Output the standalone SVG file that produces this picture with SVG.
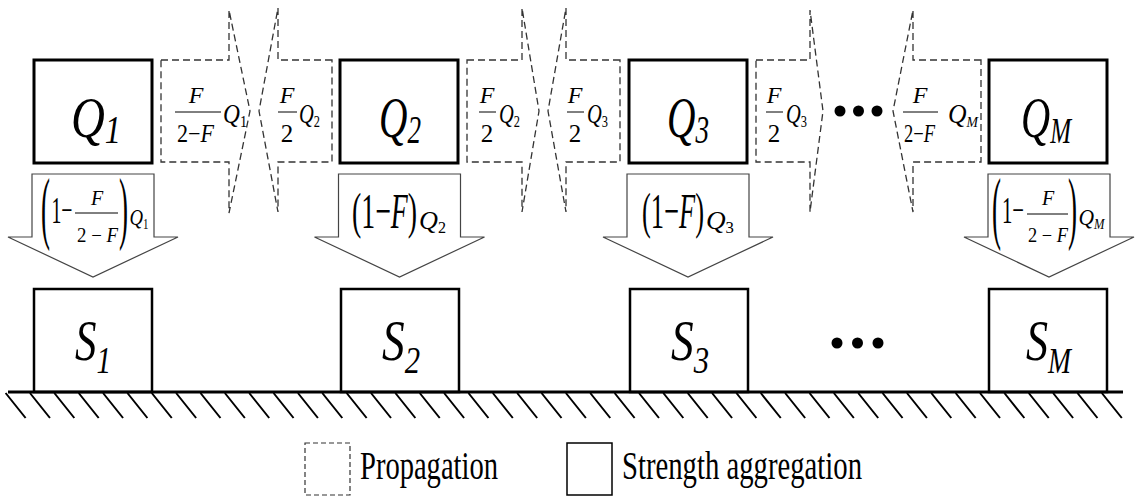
<svg xmlns="http://www.w3.org/2000/svg" width="1136" height="497" viewBox="0 0 1136 497">
<style>
.t{font-family:'Liberation Serif','DejaVu Serif','Noto Serif',serif;fill:#000}
.i{font-style:italic}
.n{font-style:normal}
.qbox{fill:#fff;stroke:#000;stroke-width:3}
.sbox{fill:#fff;stroke:#000;stroke-width:2.5}
.prop{fill:#fff;stroke:#333;stroke-width:1.3;stroke-dasharray:7 4}
.agg{fill:#fff;stroke:#444;stroke-width:1.2}
.bar{stroke:#000;stroke-width:1}
.dot{fill:#000}
</style>
<rect width="1136" height="497" fill="#fff"/>

<g id="connectors">
  <g id="prop-1-2">
    <path class="prop" d="M161,60 H229 V10 L250,111 L229,213 V162 H161 Z"/>
    <text class="t i" x="196" y="103" font-size="24" text-anchor="middle">F</text>
    <line class="bar" x1="175" y1="112" x2="221" y2="112"/>
    <text class="t" x="177" y="142" font-size="25" textLength="37" lengthAdjust="spacingAndGlyphs">2−<tspan class="i">F</tspan></text>
    <text class="t i" x="223" y="123" font-size="28" textLength="24" lengthAdjust="spacingAndGlyphs">Q<tspan class="n" font-size="17" dy="4">1</tspan></text>
  </g>
  <g id="prop-2-1">
    <path class="prop" d="M332,60 H278 V8 L259,111 L278,212 V162 H332 Z"/>
    <text class="t i" x="287" y="103" font-size="24" text-anchor="middle">F</text>
    <line class="bar" x1="278" y1="112" x2="297" y2="112"/>
    <text class="t" x="287" y="142" font-size="25" text-anchor="middle">2</text>
    <text class="t i" x="299" y="123" font-size="28" textLength="21" lengthAdjust="spacingAndGlyphs">Q<tspan class="n" font-size="17" dy="4">2</tspan></text>
  </g>
  <g id="prop-2-3">
    <path class="prop" d="M467,60 H522 V8 L539,111 L522,212 V162 H467 Z"/>
    <text class="t i" x="487" y="103" font-size="24" text-anchor="middle">F</text>
    <line class="bar" x1="479" y1="112" x2="496" y2="112"/>
    <text class="t" x="487" y="142" font-size="25" text-anchor="middle">2</text>
    <text class="t i" x="499" y="123" font-size="28" textLength="21" lengthAdjust="spacingAndGlyphs">Q<tspan class="n" font-size="17" dy="4">2</tspan></text>
  </g>
  <g id="prop-3-2">
    <path class="prop" d="M620,60 H566 V8 L548,111 L566,212 V162 H620 Z"/>
    <text class="t i" x="575" y="103" font-size="24" text-anchor="middle">F</text>
    <line class="bar" x1="567" y1="112" x2="584" y2="112"/>
    <text class="t" x="575" y="142" font-size="25" text-anchor="middle">2</text>
    <text class="t i" x="587" y="123" font-size="28" textLength="21" lengthAdjust="spacingAndGlyphs">Q<tspan class="n" font-size="17" dy="4">3</tspan></text>
  </g>
  <g id="prop-3-next">
    <path class="prop" d="M756,60 H810 V10 L823,111 L810,212 V162 H756 Z"/>
    <text class="t i" x="774" y="103" font-size="24" text-anchor="middle">F</text>
    <line class="bar" x1="766" y1="112" x2="783" y2="112"/>
    <text class="t" x="774" y="142" font-size="25" text-anchor="middle">2</text>
    <text class="t i" x="786" y="123" font-size="28" textLength="21" lengthAdjust="spacingAndGlyphs">Q<tspan class="n" font-size="17" dy="4">3</tspan></text>
  </g>
  <g id="prop-M-prev">
    <path class="prop" d="M981,60 H913 V10 L893,111 L913,212 V162 H981 Z"/>
    <text class="t i" x="920" y="103" font-size="24" text-anchor="middle">F</text>
    <line class="bar" x1="903" y1="112" x2="938" y2="112"/>
    <text class="t" x="904" y="142" font-size="25" textLength="31" lengthAdjust="spacingAndGlyphs">2−<tspan class="i">F</tspan></text>
    <text class="t i" x="948" y="123" font-size="28" textLength="30" lengthAdjust="spacingAndGlyphs">Q<tspan font-size="15" dy="4">M</tspan></text>
  </g>

  <g id="agg-1">
    <path class="agg" d="M32,174 H154 V237 H178 L93,277 L8,237 H32 Z"/>
    <text class="t" x="41" y="234" font-size="80" textLength="9" lengthAdjust="spacingAndGlyphs">(</text>
    <text class="t" x="51.5" y="223" font-size="38" textLength="21" lengthAdjust="spacingAndGlyphs">1−</text>
    <text class="t i" x="97" y="205" font-size="20" text-anchor="middle">F</text>
    <line class="bar" x1="75" y1="213" x2="118" y2="213"/>
    <text class="t" x="77" y="242" font-size="20" textLength="41" lengthAdjust="spacingAndGlyphs">2 − <tspan class="i">F</tspan></text>
    <text class="t" x="119" y="234" font-size="80" textLength="9" lengthAdjust="spacingAndGlyphs">)</text>
    <text class="t i" x="129.5" y="225" font-size="24" textLength="19" lengthAdjust="spacingAndGlyphs">Q<tspan class="n" font-size="14" dy="4">1</tspan></text>
  </g>
  <g id="agg-2">
    <path class="agg" d="M338.5,174 H460.5 V237 H484.5 L399.5,277 L314.5,237 H338.5 Z"/>
    <text class="t" x="352" y="228" font-size="50" textLength="65" lengthAdjust="spacingAndGlyphs">(1−<tspan class="i">F</tspan>)</text>
    <text class="t i" x="419" y="229" font-size="26" textLength="27" lengthAdjust="spacingAndGlyphs">Q<tspan class="n" font-size="16" dy="4">2</tspan></text>
  </g>
  <g id="agg-3">
    <path class="agg" d="M627,174 H749 V237 H773 L688,277 L603,237 H627 Z"/>
    <text class="t" x="642" y="228" font-size="50" textLength="62" lengthAdjust="spacingAndGlyphs">(1−<tspan class="i">F</tspan>)</text>
    <text class="t i" x="706" y="229" font-size="26" textLength="28" lengthAdjust="spacingAndGlyphs">Q<tspan class="n" font-size="16" dy="4">3</tspan></text>
  </g>
  <g id="agg-M">
    <path class="agg" d="M988,174 H1110 V237 H1134 L1049,277 L964,237 H988 Z"/>
    <text class="t" x="992" y="234" font-size="80" textLength="9" lengthAdjust="spacingAndGlyphs">(</text>
    <text class="t" x="1002" y="223" font-size="38" textLength="22" lengthAdjust="spacingAndGlyphs">1−</text>
    <text class="t i" x="1048" y="205" font-size="20" text-anchor="middle">F</text>
    <line class="bar" x1="1027" y1="214" x2="1068" y2="214"/>
    <text class="t" x="1028" y="242" font-size="20" textLength="40" lengthAdjust="spacingAndGlyphs">2 − <tspan class="i">F</tspan></text>
    <text class="t" x="1068" y="234" font-size="80" textLength="9" lengthAdjust="spacingAndGlyphs">)</text>
    <text class="t i" x="1078.5" y="225" font-size="24" textLength="26" lengthAdjust="spacingAndGlyphs">Q<tspan font-size="14" dy="4">M</tspan></text>
  </g>
</g>

<g id="Q1">
  <rect class="qbox" x="34" y="60" width="118" height="103"/>
  <text class="t i" x="71" y="137" font-size="58" textLength="50" lengthAdjust="spacingAndGlyphs">Q<tspan font-size="40" dy="6">1</tspan></text>
</g>
<g id="Q2">
  <rect class="qbox" x="340" y="60" width="118" height="103"/>
  <text class="t i" x="379" y="137" font-size="58" textLength="42" lengthAdjust="spacingAndGlyphs">Q<tspan font-size="40" dy="6">2</tspan></text>
</g>
<g id="Q3">
  <rect class="qbox" x="629" y="60" width="118" height="103"/>
  <text class="t i" x="667" y="137" font-size="58" textLength="42" lengthAdjust="spacingAndGlyphs">Q<tspan font-size="40" dy="6">3</tspan></text>
</g>
<g id="QM">
  <rect class="qbox" x="989" y="60" width="118" height="103"/>
  <text class="t i" x="1021" y="137" font-size="58" textLength="50" lengthAdjust="spacingAndGlyphs">Q<tspan font-size="36" dy="6">M</tspan></text>
</g>

<g id="dots-top">
  <circle class="dot" cx="840" cy="111" r="5.5"/>
  <circle class="dot" cx="858.5" cy="111" r="5.5"/>
  <circle class="dot" cx="877" cy="111" r="5.5"/>
</g>

<g id="S1">
  <rect class="sbox" x="34" y="289" width="118" height="103"/>
  <text class="t i" x="75" y="360" font-size="56" textLength="36" lengthAdjust="spacingAndGlyphs">S<tspan font-size="38" dy="13">1</tspan></text>
</g>
<g id="S2">
  <rect class="sbox" x="341" y="289" width="118" height="103"/>
  <text class="t i" x="382" y="360" font-size="56" textLength="38" lengthAdjust="spacingAndGlyphs">S<tspan font-size="38" dy="13">2</tspan></text>
</g>
<g id="S3">
  <rect class="sbox" x="630" y="289" width="118" height="103"/>
  <text class="t i" x="671" y="360" font-size="56" textLength="38" lengthAdjust="spacingAndGlyphs">S<tspan font-size="38" dy="13">3</tspan></text>
</g>
<g id="SM">
  <rect class="sbox" x="989" y="289" width="118" height="103"/>
  <text class="t i" x="1026" y="360" font-size="56" textLength="45" lengthAdjust="spacingAndGlyphs">S<tspan font-size="35" dy="13">M</tspan></text>
</g>

<g id="dots-bottom">
  <circle class="dot" cx="837" cy="343" r="5.5"/>
  <circle class="dot" cx="857.5" cy="343" r="5.5"/>
  <circle class="dot" cx="878" cy="343" r="5.5"/>
</g>

<g id="ground">
  <line x1="8" y1="392" x2="1123" y2="392" stroke="#000" stroke-width="3.2"/>
  <path stroke="#000" stroke-width="2" fill="none" d="M5.6,393 l20,25 M29.96,393 l20,25 M54.32,393 l20,25 M78.68,393 l20,25 M103.04,393 l20,25 M127.4,393 l20,25 M151.76,393 l20,25 M176.12,393 l20,25 M200.48,393 l20,25 M224.84,393 l20,25 M249.2,393 l20,25 M273.56,393 l20,25 M297.92,393 l20,25 M322.28,393 l20,25 M346.64,393 l20,25 M371,393 l20,25 M395.36,393 l20,25 M419.72,393 l20,25 M444.08,393 l20,25 M468.44,393 l20,25 M492.8,393 l20,25 M517.16,393 l20,25 M541.52,393 l20,25 M565.88,393 l20,25 M590.24,393 l20,25 M614.6,393 l20,25 M638.96,393 l20,25 M663.32,393 l20,25 M687.68,393 l20,25 M712.04,393 l20,25 M736.4,393 l20,25 M760.76,393 l20,25 M785.12,393 l20,25 M809.48,393 l20,25 M833.84,393 l20,25 M858.2,393 l20,25 M882.56,393 l20,25 M906.92,393 l20,25 M931.28,393 l20,25 M955.64,393 l20,25 M980,393 l20,25 M1004.36,393 l20,25 M1028.72,393 l20,25 M1053.08,393 l20,25 M1077.44,393 l20,25 M1101.8,393 l20,25"/>
</g>

<g id="legend">
  <rect x="305" y="443" width="45" height="52" fill="#fff" stroke="#333" stroke-width="1.2" stroke-dasharray="5 3"/>
  <text class="t" x="360" y="479" font-size="39" textLength="138" lengthAdjust="spacingAndGlyphs">Propagation</text>
  <rect x="567" y="443" width="45" height="52" fill="#fff" stroke="#000" stroke-width="1.5"/>
  <text class="t" x="622" y="479" font-size="39" textLength="240" lengthAdjust="spacingAndGlyphs">Strength aggregation</text>
</g>
</svg>
